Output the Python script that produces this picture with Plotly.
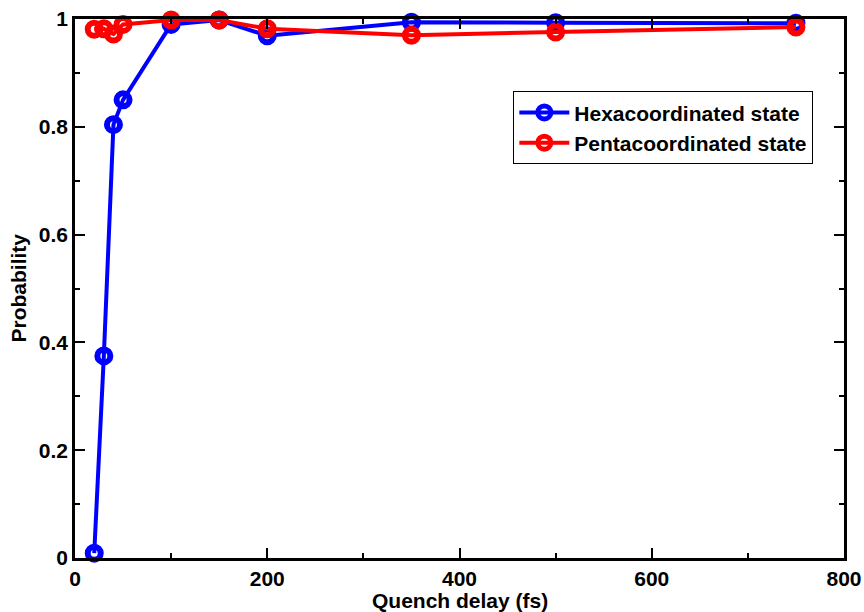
import plotly.graph_objects as go

# Quench delay (fs)
delay = [20, 30, 40, 50, 100, 150, 200, 350, 500, 750]

# Probabilities of each coordination state
hexa = [0.009, 0.375, 0.804, 0.850, 0.990, 0.998, 0.969, 0.994, 0.993, 0.992]
penta = [0.981, 0.982, 0.972, 0.990, 0.998, 0.998, 0.982, 0.970, 0.976, 0.985]

series = [
    ("Hexacoordinated state", hexa, "#0000ff"),
    ("Pentacoordinated state", penta, "#ff0000"),
]

fig = go.Figure()
for name, vals, col in series:
    fig.add_trace(go.Scatter(
        x=delay, y=vals, name=name, mode="lines+markers",
        line=dict(color=col, width=4),
        marker=dict(symbol="circle-open", size=13, color=col,
                    line=dict(color=col, width=6)),
        cliponaxis=False,
    ))

font_family = "Liberation Sans, Arial, sans-serif"
bold = dict(family=font_family, size=21, color="black", weight="bold")
axis_common = dict(
    showline=True, linecolor="black", linewidth=2.5, mirror="ticks",
    ticks="inside", ticklen=10, tickwidth=1.5, tickcolor="black",
    showgrid=False, zeroline=False, automargin=False,
    tickfont=bold,
)

fig.update_xaxes(
    range=[0, 800], dtick=200, tick0=0, ticklabelstandoff=0,
    minor=dict(ticks="inside", ticklen=5, dtick=100, tickcolor="black", tickwidth=1.5),
    **axis_common,
)
fig.update_yaxes(
    range=[0, 1], dtick=0.2, tick0=0, ticklabelstandoff=0,
    minor=dict(ticks="inside", ticklen=5, dtick=0.1, tickcolor="black", tickwidth=1.5),
    **axis_common,
)

# Axis titles
fig.add_annotation(text="Quench delay (fs)", xref="paper", yref="paper",
                   x=0.5, y=0, yshift=-42, xanchor="center", yanchor="middle",
                   showarrow=False, font=bold)
fig.add_annotation(text="Probability", xref="paper", yref="paper",
                   x=0, y=0.5, xshift=-57, xanchor="center", yanchor="middle",
                   textangle=-90, showarrow=False, font=bold)

fig.update_layout(
    width=864, height=612,
    margin=dict(l=75, r=20, t=19, b=54),
    paper_bgcolor="white", plot_bgcolor="white",
    showlegend=True,
    legend=dict(
        x=0.570, y=0.866, xanchor="left", yanchor="top",
        bordercolor="black", borderwidth=1, bgcolor="white",
        font=bold, tracegroupgap=0, itemwidth=50,
    ),
)

fig.write_html("out.html")
